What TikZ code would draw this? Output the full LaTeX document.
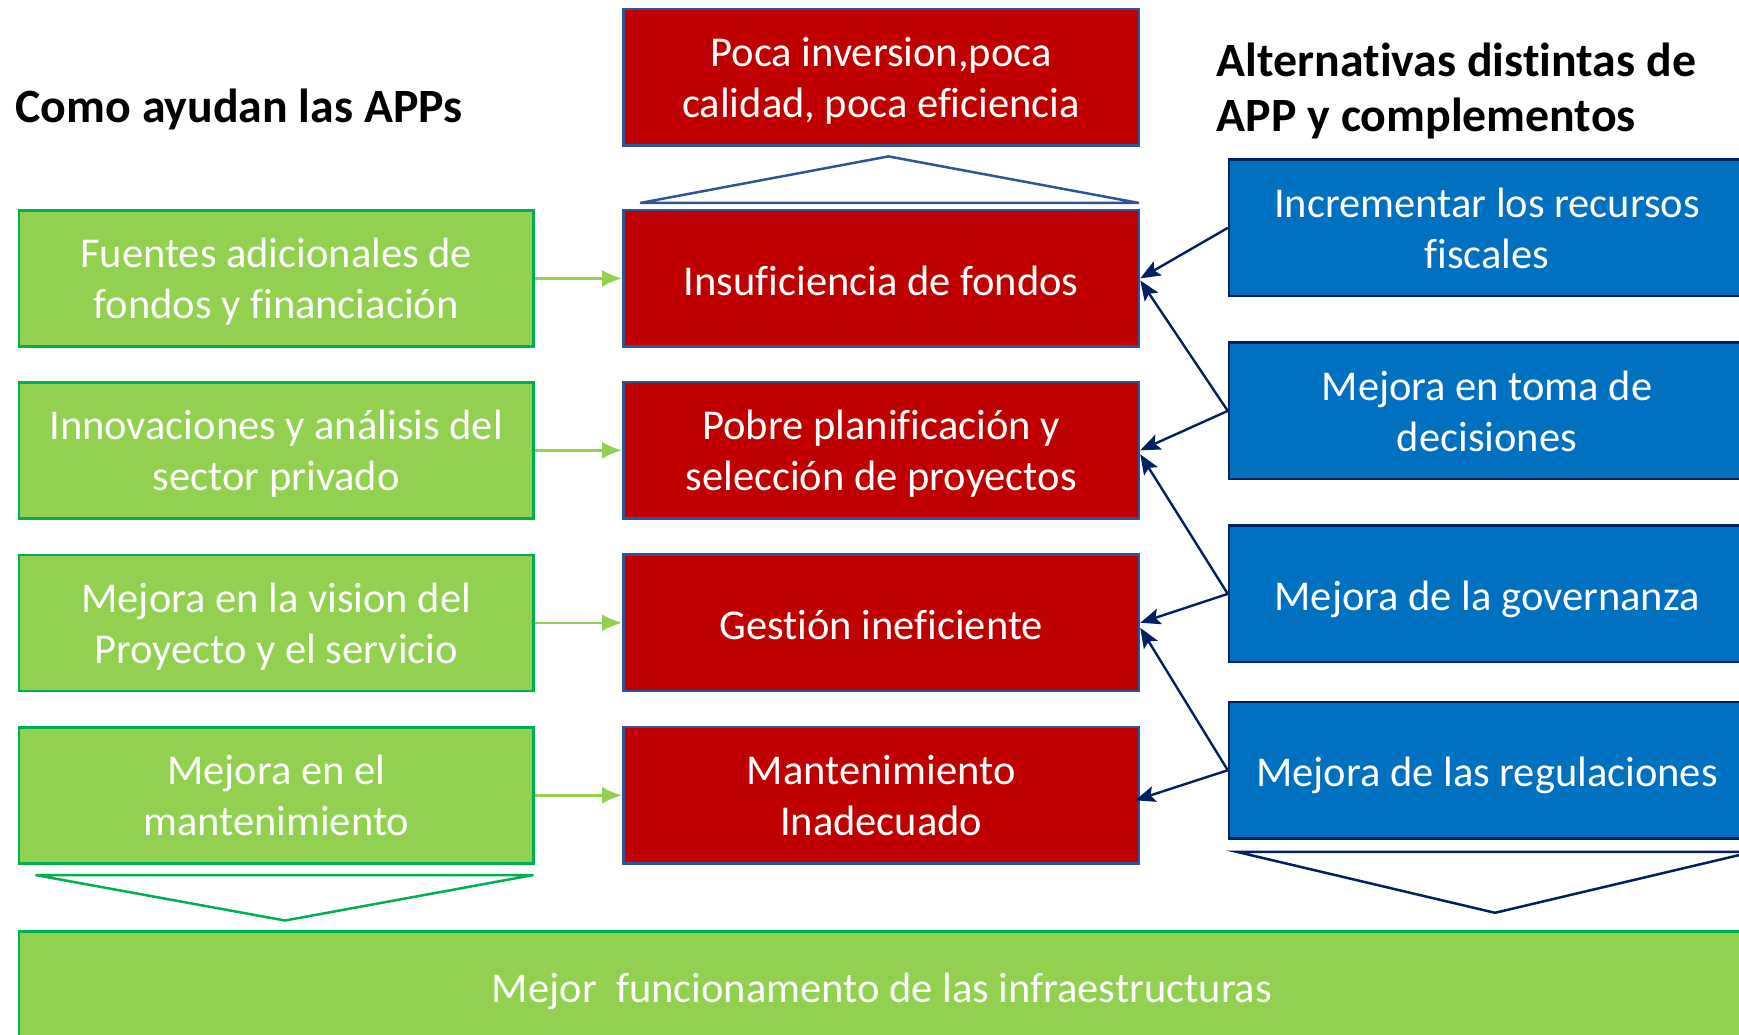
\documentclass[tikz,border=0pt]{standalone}
\usepackage{fontspec}
\setmainfont[RawFeature={-liga;-clig;-dlig}]{Carlito}
\usetikzlibrary{arrows.meta,calc}
\definecolor{gfill}{HTML}{92D050}
\definecolor{gline}{HTML}{00B050}
\definecolor{rfill}{HTML}{C00000}
\definecolor{rline}{HTML}{2F5597}
\definecolor{bfill}{HTML}{0070C0}
\definecolor{navy}{HTML}{002060}
\begin{document}
\begin{tikzpicture}[x=1pt,y=-1pt,
  box/.style={rectangle, inner sep=0pt, line width=2.5pt, text=white, align=center,
    font=\fontsize{42.5}{51}\selectfont},
  oneline/.style={text height=40.8pt, text depth=7.6pt},
  twoline/.style={text height=91pt, text depth=10pt},
  gbox/.style={box, fill=gfill, draw=gline, minimum width=514.6pt, minimum height=136pt},
  rbox/.style={box, fill=rfill, draw=rline, minimum width=515.7pt, minimum height=136.4pt},
  bbox/.style={box, fill=bfill, draw=navy, minimum width=516pt, minimum height=136.4pt},
  title/.style={font=\bfseries\fontsize{47.8}{55.5}\selectfont, align=left, anchor=west, inner sep=0pt},
  garrow/.style={draw=gfill, line width=2.5pt, -{Latex[length=20pt,width=17pt]}},
  barrow/.style={draw=navy, line width=2.4pt, -{Stealth[length=20pt,width=16pt,inset=4pt]}},
  tri/.style={line width=2.5pt, fill=white}]
\useasboundingbox (0,0) rectangle (1739,1035);
% titles
\node[title] (t1) at (15.5,109.5) {Como ayudan las APPs};
\node[title] (t2) at (1216.7,91) {Alternativas distintas de\\APP y complementos};
% top red box
\node[rbox, twoline] (top) at (881.15,77.1) {Poca inversion,poca\\calidad, poca eficiencia};
% triangles
\draw[tri, draw=rline] (640,203) -- (888.4,156.4) -- (1139,203) -- cycle;
\draw[tri, draw=gline] (35.5,875) -- (533.5,875) -- (285,920.5) -- cycle;
\draw[tri, draw=navy] (1236.6,851.8) -- (1753,851.8) -- (1495,912.8) -- cycle;
% green boxes
\node[gbox, twoline] (g1) at (276.2,278.4) {Fuentes adicionales de\\fondos y financiación};
\node[gbox, twoline] (g2) at (276.2,450.3) {Innovaciones y análisis del\\sector privado};
\node[gbox, twoline] (g3) at (276.2,622.8) {Mejora en la vision del\\Proyecto y el servicio};
\node[gbox, twoline] (g4) at (276.2,795.3) {Mejora en el\\mantenimiento};
% red boxes
\node[rbox, oneline] (r1) at (881.15,278.4) {Insuficiencia de fondos};
\node[rbox, twoline] (r2) at (881.15,450.3) {Pobre planificación y\\selección de proyectos};
\node[rbox, oneline] (r3) at (881.15,622.8) {Gestión ineficiente};
\node[rbox, twoline] (r4) at (881.15,795.3) {Mantenimiento\\Inadecuado};
% blue boxes
\node[bbox, twoline] (b1) at (1487,227.9) {Incrementar los recursos\\fiscales};
\node[bbox, twoline] (b2) at (1487,410.9) {Mejora en toma de\\decisiones};
\node[bbox, oneline] (b3) at (1487,593.9) {Mejora de la governanza};
\node[bbox, oneline] (b4) at (1487,770.25) {Mejora de las regulaciones};
% bottom box
\node[box, oneline, fill=gfill, draw=gline, minimum width=1726pt, minimum height=108.4pt] (bot) at (882,985.8) {Mejor\ \ funcionamento de las infraestructuras};
% green arrows
\draw[garrow] (g1.east) -- (r1.west);
\draw[garrow] (g2.east) -- (r2.west);
\draw[garrow] (g3.east) -- (r3.west);
\draw[garrow] (g4.east) -- (r4.west);
% navy arrows
\draw[barrow] (b1.west) -- (r1.east);
\draw[barrow] (b2.west) -- ($(r1.east)+(0,2)$);
\draw[barrow] (b2.west) -- (r2.east);
\draw[barrow] (b3.west) -- ($(r2.east)+(0,4)$);
\draw[barrow] (b3.west) -- (r3.east);
\draw[barrow] (b4.west) -- ($(r3.east)+(0,5)$);
\draw[barrow] (b4.west) -- ($(r4.east)+(-5,5)$);
\end{tikzpicture}
\end{document}
